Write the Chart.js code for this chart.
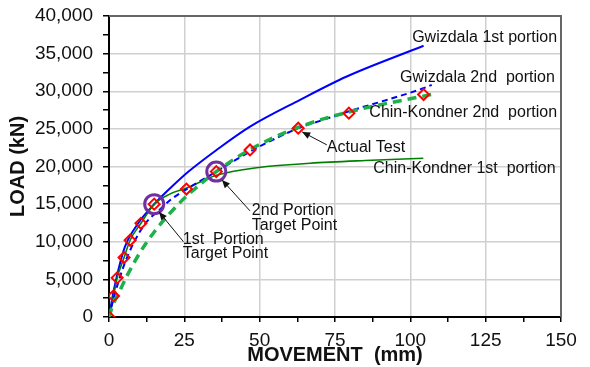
<!DOCTYPE html>
<html>
<head>
<meta charset="utf-8">
<script src="https://cdn.jsdelivr.net/npm/chart.js@4.4.1/dist/chart.umd.min.js"></script>
<style>
  html, body { margin: 0; padding: 0; background: #fff; }
</style>
</head>
<body>
<canvas id="chart" width="590" height="367"></canvas>
<script>
// actual load test (red diamonds)
const testMove = [0, 1.5, 2.7, 5.0, 7.0, 10.6, 15.0, 25.7, 35.6, 46.8, 62.8, 79.6, 104.4];
const testLoad = [0, 2800, 5200, 7900, 10200, 12450, 15000, 17000, 19320, 22200, 25090, 27090, 29560];

// Gwizdala 1st portion (solid blue)
const gw1Move = [0, 1.4, 3.1, 5.3, 9.7, 15.3, 20.8, 26.3, 35.7, 46.8, 63.4, 78.9, 104.4];
const gw1Load = [0, 3150, 6250, 9350, 12460, 15120, 17300, 19300, 22200, 25300, 28860, 31960, 36040];

// Gwizdala 2nd portion (dashed blue)
const gw2Move = [0, 1.5, 3, 5, 8, 12, 16.9, 20.8, 25.8, 35.6, 46.8, 62.8, 71.1, 79.4, 104.3, 107.1];
const gw2Load = [0, 2400, 4500, 6900, 9700, 12400, 14300, 15700, 17000, 19320, 21980, 25090, 26200, 27300, 30400, 30850];

// Chin-Kondner 1st portion (solid green)
const ck1Move = [0, 1.5, 2.7, 5.0, 7.0, 10.6, 15.0, 20, 25.8, 35.4, 45, 52.3, 66.7, 85, 104.3];
const ck1Load = [0, 2800, 5200, 7900, 10200, 12450, 15000, 16300, 17150, 18800, 19600, 19990, 20440, 20800, 21100];

// Chin-Kondner 2nd portion (thick dashed green)
const ck2Move = [0, 1.4, 3, 6, 10.5, 15, 20, 26, 35.6, 46.8, 62.8, 79.6, 107.4];
const ck2Load = [0, 1700, 3000, 5500, 8700, 11300, 13700, 16150, 19320, 22250, 25200, 27250, 29600];

// target points (purple circles)
const targetMove = [15.0, 35.6];
const targetLoad = [15000, 19320];

const xTicksMajor = 25;
const yTicksMajor = 5000;

function pts(xs, ys) {
    return xs.map((x, i) => ({x: x, y: ys[i]}));
}

const labelFont = "16px 'Liberation Sans', Arial, sans-serif";
const notes = [
    {text: "Gwizdala 1st portion", x: 100.6, y: 37100},
    {text: "Gwizdala 2nd  portion", x: 96.6, y: 31850},
    {text: "Chin-Kondner 2nd  portion", x: 86.4, y: 27130},
    {text: "Actual Test", x: 72.3, y: 22470},
    {text: "Chin-Kondner 1st  portion", x: 87.7, y: 19680},
    {text: "1st  Portion", x: 24.5, y: 10310},
    {text: "Target Point", x: 24.5, y: 8380},
    {text: "2nd Portion", x: 47.4, y: 14160},
    {text: "Target Point", x: 47.4, y: 12100}
];
const arrows = [
    {from: [72.3, 22870], to: [64.1, 24600]},
    {from: [24.7, 10010], to: [16.6, 13960]},
    {from: [46.8, 14100], to: [37.5, 18220]}
];

const frameAndNotes = {
    id: "frameAndNotes",
    beforeDatasetsDraw(chart) {
        const {ctx, chartArea: a} = chart;
        ctx.save();
        ctx.strokeStyle = "#666";
        ctx.lineWidth = 2;
        ctx.beginPath();
        ctx.moveTo(a.left, a.top);
        ctx.lineTo(a.right, a.top);
        ctx.lineTo(a.right, a.bottom);
        ctx.stroke();
        ctx.restore();
    },
    afterDatasetsDraw(chart) {
        const {ctx, scales: {x, y}} = chart;
        ctx.save();
        ctx.font = labelFont;
        ctx.fillStyle = "#111";
        ctx.textAlign = "left";
        ctx.textBaseline = "middle";
        notes.forEach(n => ctx.fillText(n.text, x.getPixelForValue(n.x), y.getPixelForValue(n.y)));

        ctx.strokeStyle = "#111";
        ctx.lineWidth = 1;
        arrows.forEach(ar => {
            const x0 = x.getPixelForValue(ar.from[0]), y0 = y.getPixelForValue(ar.from[1]);
            const x1 = x.getPixelForValue(ar.to[0]), y1 = y.getPixelForValue(ar.to[1]);
            const ang = Math.atan2(y1 - y0, x1 - x0);
            ctx.beginPath();
            ctx.moveTo(x0, y0);
            ctx.lineTo(x1, y1);
            ctx.stroke();
            ctx.beginPath();
            ctx.moveTo(x1, y1);
            ctx.lineTo(x1 - 8 * Math.cos(ang) + 3.5 * Math.sin(ang), y1 - 8 * Math.sin(ang) - 3.5 * Math.cos(ang));
            ctx.lineTo(x1 - 8 * Math.cos(ang) - 3.5 * Math.sin(ang), y1 - 8 * Math.sin(ang) + 3.5 * Math.cos(ang));
            ctx.closePath();
            ctx.fill();
        });
        ctx.restore();
    }
};

const tickFont = {family: "'Liberation Sans', Arial, sans-serif", size: 19};
const titleFont = {family: "'Liberation Sans', Arial, sans-serif", size: 20, weight: "bold"};

new Chart(document.getElementById("chart"), {
    type: "scatter",
    data: {
        datasets: [
            {
                label: "Actual Test",
                data: pts(testMove, testLoad),
                showLine: false,
                pointStyle: "rectRot",
                pointRadius: 5.5,
                borderColor: "#ff0000",
                borderWidth: 2,
                backgroundColor: "rgba(255,255,255,0)",
                order: 0
            },
            {
                label: "Target Points",
                data: pts(targetMove, targetLoad),
                showLine: false,
                pointStyle: "circle",
                pointRadius: 9.5,
                borderColor: "#7030a0",
                borderWidth: 3,
                backgroundColor: "rgba(255,255,255,0)",
                order: 1
            },
            {
                label: "Chin-Kondner 2nd portion",
                data: pts(ck2Move, ck2Load),
                showLine: true,
                pointRadius: 0,
                borderColor: "#1fb04a",
                borderWidth: 3.5,
                borderDash: [9, 6],
                cubicInterpolationMode: "monotone",
                order: 2
            },
            {
                label: "Gwizdala 2nd portion",
                data: pts(gw2Move, gw2Load),
                showLine: true,
                pointRadius: 0,
                borderColor: "#0000ff",
                borderWidth: 2,
                borderDash: [6, 4],
                cubicInterpolationMode: "monotone",
                order: 3
            },
            {
                label: "Chin-Kondner 1st portion",
                data: pts(ck1Move, ck1Load),
                showLine: true,
                pointRadius: 0,
                borderColor: "#008000",
                borderWidth: 1.6,
                cubicInterpolationMode: "monotone",
                order: 4
            },
            {
                label: "Gwizdala 1st portion",
                data: pts(gw1Move, gw1Load),
                showLine: true,
                pointRadius: 0,
                borderColor: "#0000ff",
                borderWidth: 2,
                cubicInterpolationMode: "monotone",
                order: 5
            }
        ]
    },
    options: {
        responsive: false,
        animation: false,
        layout: {padding: {left: 3, right: 29, top: 16, bottom: 0}},
        plugins: {legend: {display: false}, tooltip: {enabled: false}},
        scales: {
            x: {
                type: "linear",
                min: 0,
                max: 150,
                afterFit: s => { s.height = 50; s.paddingLeft = 0; s.paddingRight = 0; },
                border: {color: "#000", width: 2},
                grid: {
                    color: c => (c.tick && c.tick.value % xTicksMajor === 0) ? "#d0d0d0" : "rgba(0,0,0,0)",
                    lineWidth: 1.5,
                    tickColor: "#000",
                    tickLength: 5,
                    tickWidth: 1.5
                },
                ticks: {
                    stepSize: 12.5,
                    autoSkip: false,
                    maxRotation: 0,
                    padding: 7,
                    color: "#111",
                    font: tickFont,
                    callback: v => v % xTicksMajor === 0 ? v : ""
                },
                title: {
                    display: true,
                    text: "MOVEMENT  (mm)",
                    color: "#111",
                    font: titleFont,
                    padding: {top: 0, bottom: 0}
                }
            },
            y: {
                type: "linear",
                min: 0,
                max: 40000,
                afterFit: s => { s.width = 106; s.paddingTop = 0; s.paddingBottom = 0; },
                border: {color: "#000", width: 2},
                grid: {
                    color: c => (c.tick && c.tick.value % yTicksMajor === 0) ? "#d0d0d0" : "rgba(0,0,0,0)",
                    lineWidth: 1.5,
                    tickColor: "#000",
                    tickLength: 6,
                    tickWidth: 1.5
                },
                ticks: {
                    stepSize: 2500,
                    autoSkip: false,
                    padding: 10,
                    color: "#111",
                    font: tickFont,
                    callback: v => v % yTicksMajor === 0 ? v.toLocaleString("en-US") : ""
                },
                title: {
                    display: true,
                    text: "LOAD (kN)",
                    color: "#111",
                    font: titleFont,
                    padding: {top: 3, bottom: 6}
                }
            }
        }
    },
    plugins: [frameAndNotes]
});
</script>
</body>
</html>
